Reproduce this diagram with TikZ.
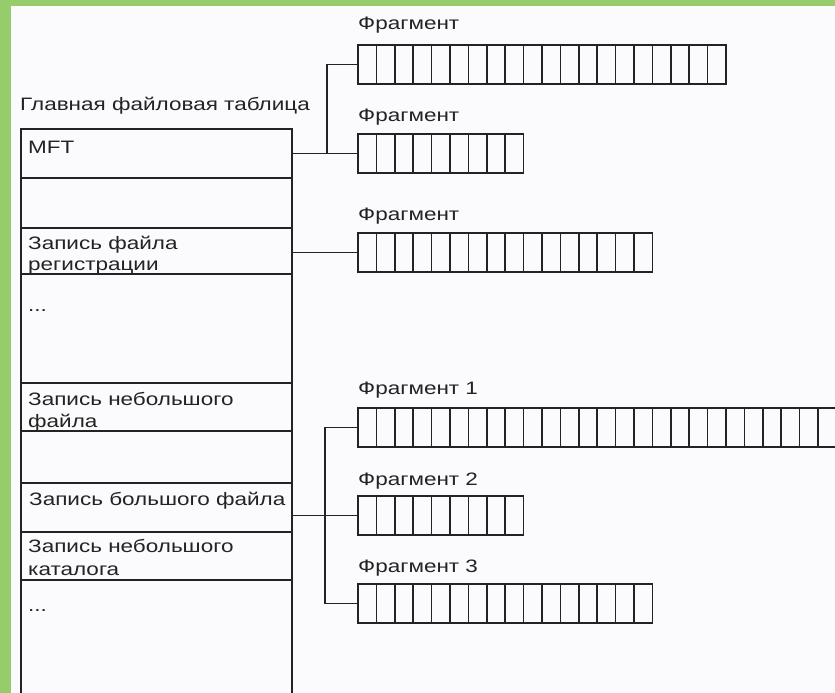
\documentclass[tikz,border=0pt]{standalone}
\usepackage{fontspec}
\newfontfamily\labfont[FakeStretch=1.25]{Liberation Sans}
\definecolor{bordergreen}{RGB}{150,204,106}
\definecolor{paper}{RGB}{251,250,252}
\definecolor{ink}{RGB}{35,35,35}
\newcommand\fragcells[2]{%
  \foreach \i in {1,...,#2}{%
    \draw[cell] ([xshift=\i*18.4pt]#1.north west) -- ([xshift=\i*18.4pt]#1.south west);}}
\begin{document}
\begin{tikzpicture}[x=1pt,y=-1pt,
  every node/.style={font=\labfont\fontsize{18}{21}\selectfont, text=ink},
  row/.style={draw=ink, line width=1.6pt, minimum width=271pt, inner sep=0pt, outer sep=0pt, anchor=north west},
  fragbox/.style={draw=ink, line width=1.7pt, inner sep=0pt, outer sep=0pt, minimum height=39pt, anchor=north west},
  cell/.style={draw=ink, line width=1.5pt},
  conn/.style={draw=ink, line width=1.8pt},
  thinconn/.style={draw=ink, line width=1.3pt},
  txt/.style={anchor=base west, inner sep=0pt}]
\fill[bordergreen] (0,0) rectangle (835,693);
\fill[paper] (11,6) rectangle (835,693);
\useasboundingbox (0,0) rectangle (835,693);

% main file table
\node[txt] (title) at (20,110) {Главная файловая таблица};
\node[row, minimum height=49pt]  (r1) at (21,129) {};
\node[row, minimum height=50pt]  (r2) at (21,178) {};
\node[row, minimum height=46pt]  (r3) at (21,228) {};
\node[row, minimum height=109pt] (r4) at (21,274) {};
\node[row, minimum height=48pt]  (r5) at (21,383) {};
\node[row, minimum height=52pt]  (r6) at (21,431) {};
\node[row, minimum height=49pt]  (r7) at (21,483) {};
\node[row, minimum height=48pt]  (r8) at (21,532) {};
\node[row, minimum height=130pt] (r9) at (21,580) {};

\node[txt] (t1)  at (28,153) {MFT};
\node[txt] (t3a) at (28,249) {Запись файла};
\node[txt] (t3b) at (28,270) {регистрации};
\node[txt] (t4)  at (28,311) {...};
\node[txt] (t5a) at (28,405) {Запись небольшого};
\node[txt] (t5b) at (28,427) {файла};
\node[txt] (t7)  at (29,505) {Запись большого файла};
\node[txt] (t8a) at (28,552) {Запись небольшого};
\node[txt] (t8b) at (28,575) {каталога};
\node[txt] (t9)  at (28,611) {...};

% fragments
\node[txt] (lA) at (358,30)  {Фрагмент};
\node[txt] (lB) at (358,121) {Фрагмент};
\node[txt] (lC) at (358,220) {Фрагмент};
\node[txt] (lD) at (358,394) {Фрагмент 1};
\node[txt] (lE) at (358,485) {Фрагмент 2};
\node[txt] (lF) at (358,572) {Фрагмент 3};

\node[fragbox, minimum width=368pt]   (A) at (358,45)  {};
\node[fragbox, minimum width=165.6pt] (B) at (358,134) {};
\node[fragbox, minimum width=294.4pt] (C) at (358,233) {};
\node[fragbox, minimum width=478.4pt] (D) at (358,408) {};
\node[fragbox, minimum width=165.6pt] (E) at (358,496) {};
\node[fragbox, minimum width=294.4pt] (F) at (358,584) {};
\fragcells{A}{19}
\fragcells{B}{8}
\fragcells{C}{15}
\fragcells{D}{25}
\fragcells{E}{8}
\fragcells{F}{15}

% connectors
\coordinate (j1) at (327,153);
\coordinate (j2) at (325,515);
\draw[conn] (B.west -| r1.east) -- (B.west);
\draw[conn] (B.west -| j1) |- (A.west);
\draw[conn] (C.west -| r3.east) -- (C.west);
\draw[thinconn] (E.west -| r7.east) -- (E.west);
\draw[thinconn] (D.west) -- (D.west -| j2) -- (F.west -| j2) -- (F.west);
\end{tikzpicture}
\end{document}
